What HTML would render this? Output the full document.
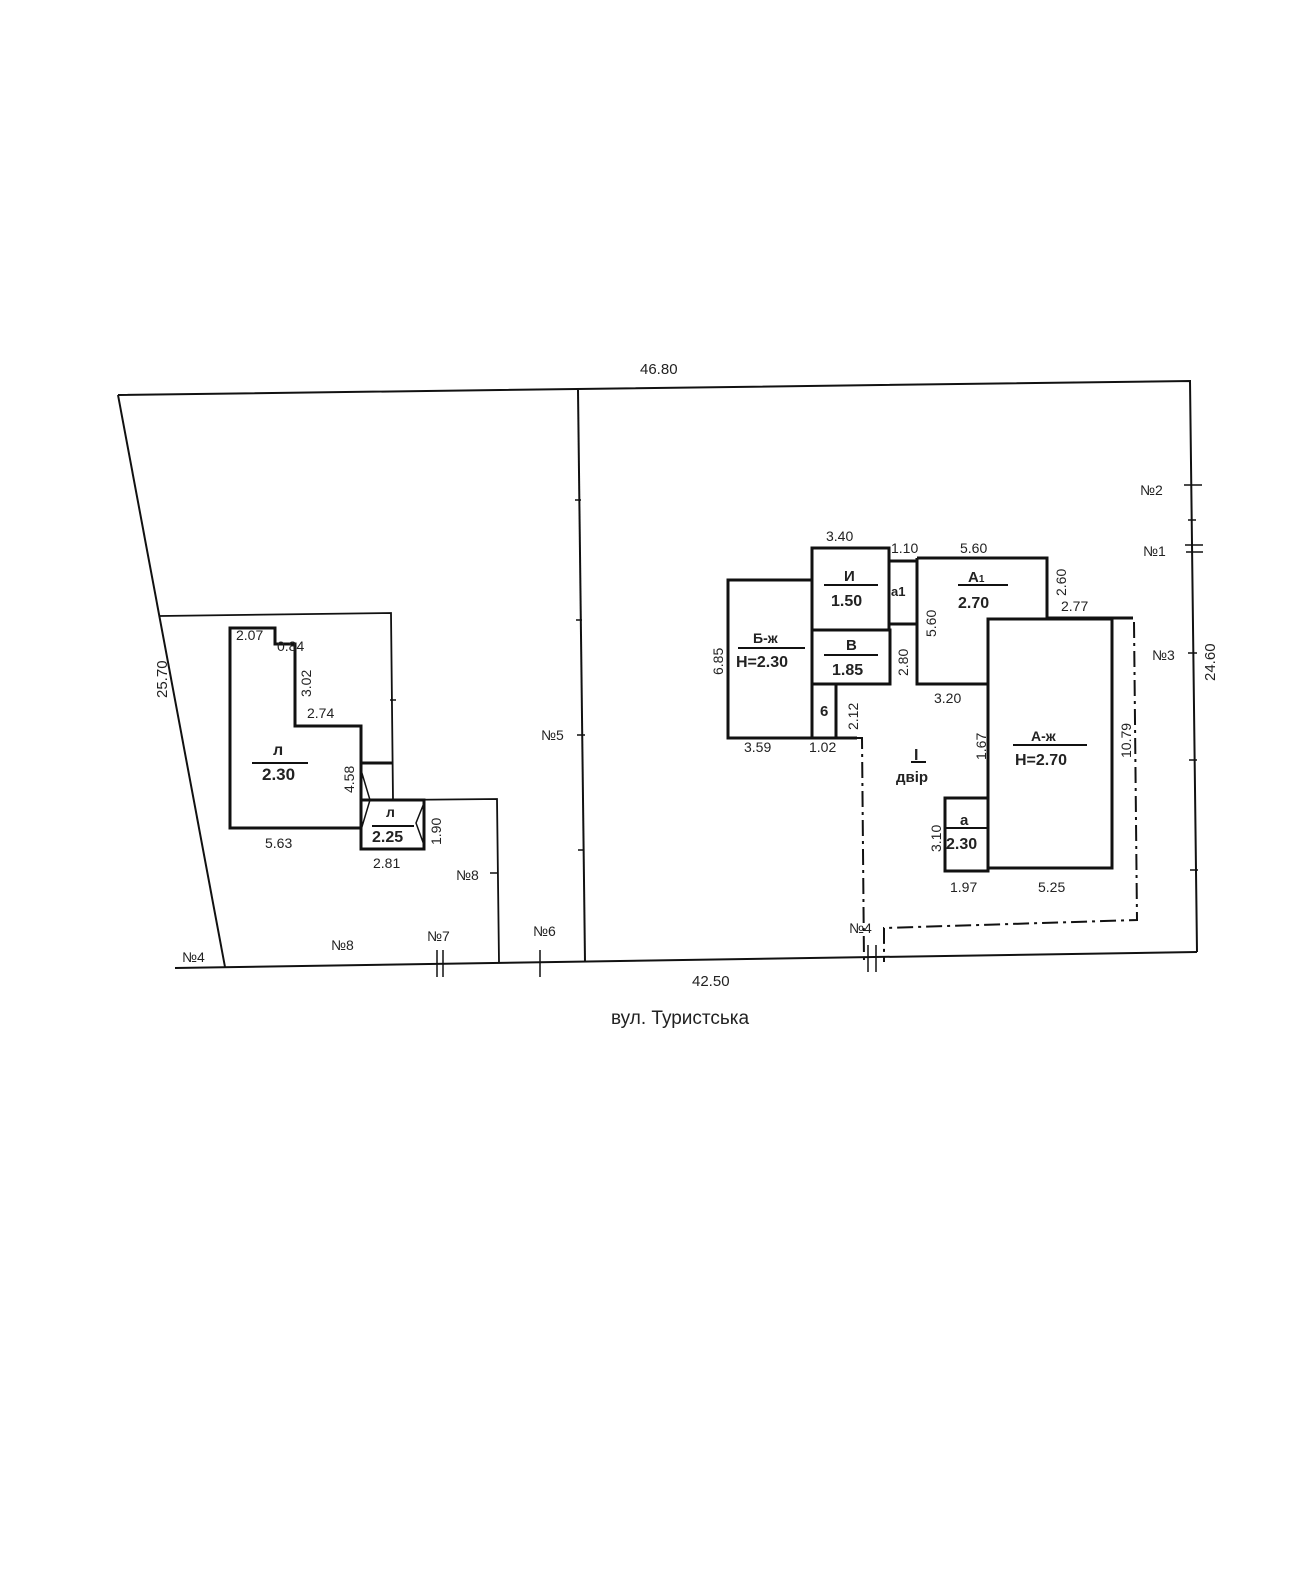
<!DOCTYPE html>
<html><head><meta charset="utf-8"><style>
html,body{margin:0;padding:0;background:#fff;}
svg{display:block;}
text{font-family:"Liberation Sans",sans-serif;fill:#222;}
.b{font-weight:bold;}
</style></head><body>
<svg width="1290" height="1581" viewBox="0 0 1290 1581" xmlns="http://www.w3.org/2000/svg">
<g stroke="#111" fill="none" stroke-width="2">
<polyline points="118,395 1190,381 1197,952"/>
<line x1="118" y1="395" x2="225" y2="967"/>
<line x1="175" y1="968" x2="1197" y2="952"/>
<line x1="578" y1="390" x2="585" y2="962"/>
<polyline points="160,616 391,613 393,800 497,799 499,962" stroke-width="1.8"/>
</g>
<g stroke="#111" stroke-width="1.5">
<line x1="575" y1="500" x2="581" y2="500"/><line x1="576" y1="620" x2="582" y2="620"/><line x1="577" y1="735" x2="585" y2="735"/><line x1="578" y1="850" x2="584" y2="850"/>
<line x1="1184" y1="485" x2="1202" y2="485"/><line x1="1185" y1="545" x2="1203" y2="545"/><line x1="1186" y1="552" x2="1203" y2="552"/><line x1="1188" y1="520" x2="1196" y2="520"/>
<line x1="1188" y1="653" x2="1197" y2="653"/><line x1="1189" y1="760" x2="1197" y2="760"/><line x1="1190" y1="870" x2="1198" y2="870"/>
<line x1="437" y1="950" x2="437" y2="977"/><line x1="443" y1="950" x2="443" y2="977"/><line x1="540" y1="950" x2="540" y2="977"/>
<line x1="868" y1="945" x2="868" y2="972"/><line x1="876" y1="945" x2="876" y2="972"/>
<line x1="490" y1="873" x2="498" y2="873"/><line x1="390" y1="700" x2="396" y2="700"/>
</g>
<g stroke="#111" fill="none" stroke-width="3">
<polygon points="230,628 275,628 275,644 295,644 295,726 361,726 361,828 230,828"/>
<line x1="361" y1="763" x2="392" y2="763"/>
<rect x="361" y="800" width="63" height="49"/>
<polyline points="361,770 370,800 361,830" stroke-width="1.5"/>
<polyline points="424,803 416,823 424,845" stroke-width="1.5"/>
<line x1="372" y1="826" x2="414" y2="826" stroke-width="2"/>
<line x1="252" y1="763" x2="308" y2="763" stroke-width="2"/>
</g>
<g stroke="#111" fill="none" stroke-width="3">
<rect x="728" y="580" width="84" height="158"/>
<rect x="812" y="548" width="77" height="82"/>
<rect x="812" y="630" width="78" height="54"/>
<rect x="812" y="684" width="24" height="54"/>
<polyline points="836,738 857,738"/>
<rect x="889" y="561" width="28" height="63"/>
<polyline points="917,558 1047,558 1047,618"/>
<polyline points="917,558 917,684 988,684"/>
<rect x="988" y="619" width="124" height="249"/>
<polyline points="1047,618 1133,618"/>
<rect x="945" y="798" width="43" height="73"/>
<line x1="945" y1="828" x2="988" y2="828" stroke-width="2"/>
<line x1="738" y1="648" x2="805" y2="648" stroke-width="2"/>
<line x1="824" y1="585" x2="878" y2="585" stroke-width="2"/>
<line x1="824" y1="655" x2="878" y2="655" stroke-width="2"/>
<line x1="958" y1="585" x2="1008" y2="585" stroke-width="2"/>
<line x1="1013" y1="745" x2="1087" y2="745" stroke-width="2"/>
</g>
<g stroke="#111" fill="none" stroke-width="2" stroke-dasharray="16,5,3,5">
<polyline points="857,738 862,738 864,962"/>
<polyline points="1134,622 1137,920 884,928 884,962"/>
</g>
<g font-size="15">
<text x="640" y="374">46.80</text>
<text x="692" y="986">42.50</text>
<text x="611" y="1024" font-size="19">вул. Туристська</text>
<text x="0" y="0" transform="translate(167,698) rotate(-90)">25.70</text>
<text x="0" y="0" transform="translate(1215,681) rotate(-90)">24.60</text>
<text x="1140" y="495" font-size="14">№2</text>
<text x="1143" y="556" font-size="14">№1</text>
<text x="1152" y="660" font-size="14">№3</text>
<text x="541" y="740" font-size="14">№5</text>
<text x="533" y="936" font-size="14">№6</text>
<text x="427" y="941" font-size="14">№7</text>
<text x="456" y="880" font-size="14">№8</text>
<text x="331" y="950" font-size="14">№8</text>
<text x="182" y="962" font-size="14">№4</text>
<text x="849" y="933" font-size="14">№4</text>
<text x="236" y="640" font-size="14">2.07</text>
<text x="277" y="651" font-size="14">0.84</text>
<text x="0" y="0" font-size="14" transform="translate(311,697) rotate(-90)">3.02</text>
<text x="307" y="718" font-size="14">2.74</text>
<text x="0" y="0" font-size="14" transform="translate(354,793) rotate(-90)">4.58</text>
<text x="265" y="848" font-size="14">5.63</text>
<text x="373" y="868" font-size="14">2.81</text>
<text x="0" y="0" font-size="14" transform="translate(441,845) rotate(-90)">1.90</text>
<text x="273" y="755" class="b" font-size="16">л</text>
<text x="262" y="780" class="b" font-size="17">2.30</text>
<text x="386" y="817" class="b" font-size="14">л</text>
<text x="372" y="842" class="b" font-size="16">2.25</text>
<text x="826" y="541" font-size="14">3.40</text>
<text x="891" y="553" font-size="14">1.10</text>
<text x="960" y="553" font-size="14">5.60</text>
<text x="0" y="0" font-size="14" transform="translate(1066,596) rotate(-90)">2.60</text>
<text x="1061" y="611" font-size="14">2.77</text>
<text x="0" y="0" font-size="14" transform="translate(723,675) rotate(-90)">6.85</text>
<text x="0" y="0" font-size="14" transform="translate(936,637) rotate(-90)">5.60</text>
<text x="0" y="0" font-size="14" transform="translate(908,676) rotate(-90)">2.80</text>
<text x="0" y="0" font-size="14" transform="translate(858,730) rotate(-90)">2.12</text>
<text x="934" y="703" font-size="14">3.20</text>
<text x="0" y="0" font-size="14" transform="translate(986,760) rotate(-90)">1.67</text>
<text x="0" y="0" font-size="14" transform="translate(1131,758) rotate(-90)">10.79</text>
<text x="0" y="0" font-size="14" transform="translate(941,852) rotate(-90)">3.10</text>
<text x="744" y="752" font-size="14">3.59</text>
<text x="809" y="752" font-size="14">1.02</text>
<text x="950" y="892" font-size="14">1.97</text>
<text x="1038" y="892" font-size="14">5.25</text>
<text x="753" y="643" class="b" font-size="14">Б-ж</text>
<text x="736" y="667" class="b" font-size="16">Н=2.30</text>
<text x="844" y="581" class="b" font-size="15">И</text>
<text x="831" y="606" class="b" font-size="16">1.50</text>
<text x="846" y="650" class="b" font-size="15">В</text>
<text x="832" y="675" class="b" font-size="16">1.85</text>
<text x="820" y="716" class="b" font-size="15">6</text>
<text x="891" y="596" class="b" font-size="13">а1</text>
<text x="968" y="582" class="b" font-size="15">А<tspan font-size="10">1</tspan></text>
<text x="958" y="608" class="b" font-size="16">2.70</text>
<text x="1031" y="741" class="b" font-size="14">А-ж</text>
<text x="1015" y="765" class="b" font-size="16">Н=2.70</text>
<text x="960" y="825" class="b" font-size="15">а</text>
<text x="946" y="849" class="b" font-size="16">2.30</text>
<text x="914" y="760" class="b" font-size="16">I</text>
<line x1="911" y1="762" x2="926" y2="762" stroke="#111" stroke-width="2"/>
<text x="896" y="782" class="b" font-size="15">двір</text>
</g>
</svg>
</body></html>
